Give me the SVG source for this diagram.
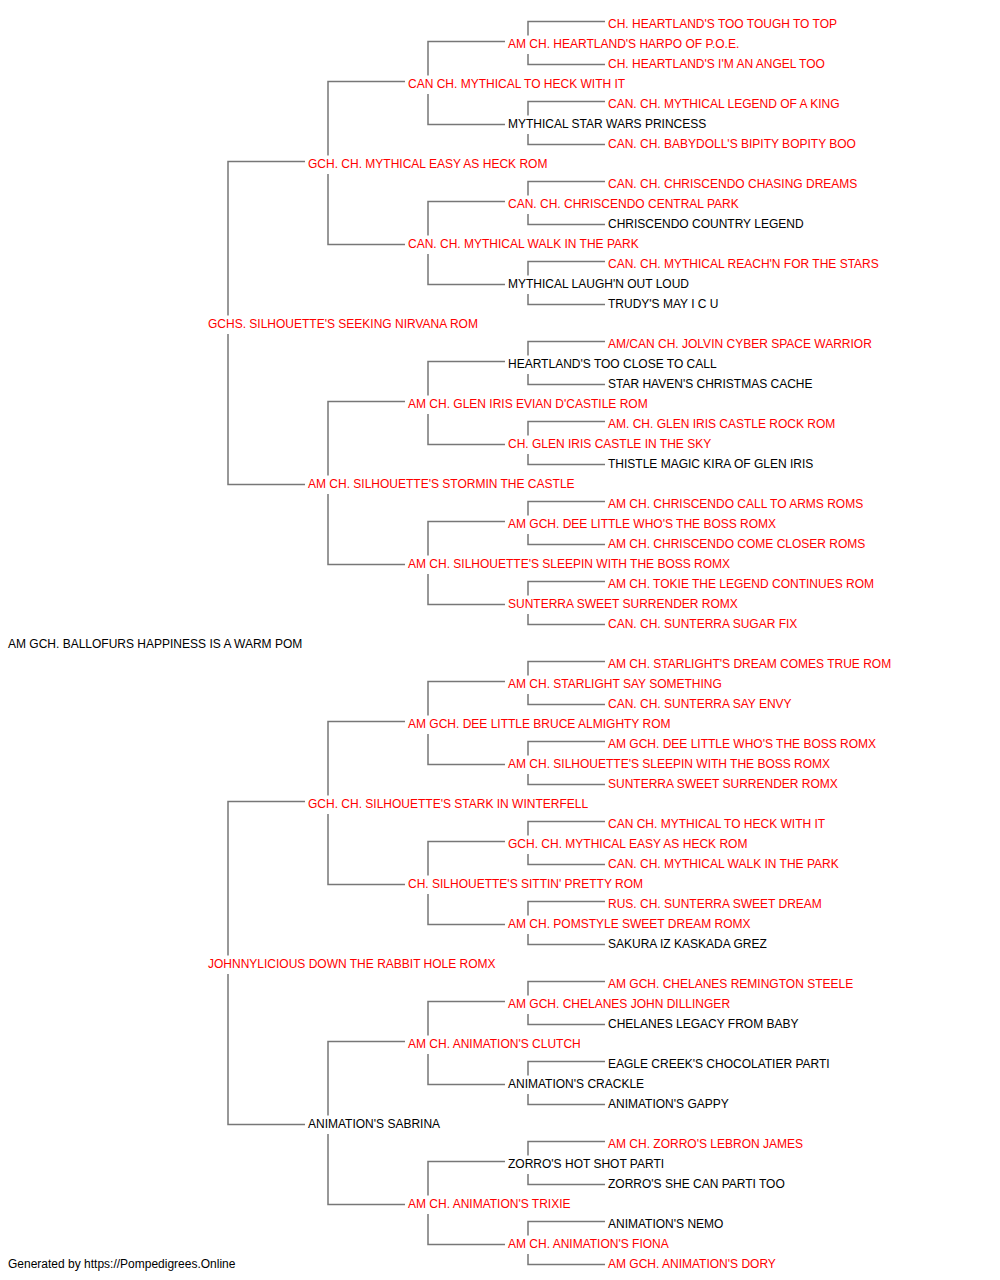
<svg xmlns="http://www.w3.org/2000/svg" width="1000" height="1280" viewBox="0 0 1000 1280">
<style>
text{font-family:"Liberation Sans",Arial,sans-serif;font-size:12px;fill:#000}
.r{fill:#ff0000}
#connectors path{fill:none;stroke:#777;stroke-width:1.5}
</style>
<rect width="1000" height="1280" fill="#fff"/>
<g id="connectors">
<path d="M305 161.5H228V315.5M228 334V484.5H305"/>
<path d="M305 801.5H228V955.5M228 974V1124.5H305"/>
<path d="M405 81.5H328V155.5M328 174V244.5H405"/>
<path d="M405 401.5H328V475.5M328 494V564.5H405"/>
<path d="M405 721.5H328V795.5M328 814V884.5H405"/>
<path d="M405 1041.5H328V1115.5M328 1134V1204.5H405"/>
<path d="M505 41.5H428V75.5M428 94V124.5H505"/>
<path d="M505 201.5H428V235.5M428 254V284.5H505"/>
<path d="M505 361.5H428V395.5M428 414V444.5H505"/>
<path d="M505 521.5H428V555.5M428 574V604.5H505"/>
<path d="M505 681.5H428V715.5M428 734V764.5H505"/>
<path d="M505 841.5H428V875.5M428 894V924.5H505"/>
<path d="M505 1001.5H428V1035.5M428 1054V1084.5H505"/>
<path d="M505 1161.5H428V1195.5M428 1214V1244.5H505"/>
<path d="M605 21.5H528V35.5M528 54V64.5H605"/>
<path d="M605 101.5H528V115.5M528 134V144.5H605"/>
<path d="M605 181.5H528V195.5M528 214V224.5H605"/>
<path d="M605 261.5H528V275.5M528 294V304.5H605"/>
<path d="M605 341.5H528V355.5M528 374V384.5H605"/>
<path d="M605 421.5H528V435.5M528 454V464.5H605"/>
<path d="M605 501.5H528V515.5M528 534V544.5H605"/>
<path d="M605 581.5H528V595.5M528 614V624.5H605"/>
<path d="M605 661.5H528V675.5M528 694V704.5H605"/>
<path d="M605 741.5H528V755.5M528 774V784.5H605"/>
<path d="M605 821.5H528V835.5M528 854V864.5H605"/>
<path d="M605 901.5H528V915.5M528 934V944.5H605"/>
<path d="M605 981.5H528V995.5M528 1014V1024.5H605"/>
<path d="M605 1061.5H528V1075.5M528 1094V1104.5H605"/>
<path d="M605 1141.5H528V1155.5M528 1174V1184.5H605"/>
<path d="M605 1221.5H528V1235.5M528 1254V1264.5H605"/>
</g>
<g id="n0"><text class="r" x="608" y="27.5">CH. HEARTLAND'S TOO TOUGH TO TOP</text></g>
<g id="n1"><text class="r" x="508" y="47.5">AM CH. HEARTLAND'S HARPO OF P.O.E.</text></g>
<g id="n2"><text class="r" x="608" y="67.5">CH. HEARTLAND'S I'M AN ANGEL TOO</text></g>
<g id="n3"><text class="r" x="408" y="87.5">CAN CH. MYTHICAL TO HECK WITH IT</text></g>
<g id="n4"><text class="r" x="608" y="107.5">CAN. CH. MYTHICAL LEGEND OF A KING</text></g>
<g id="n5"><text x="508" y="127.5">MYTHICAL STAR WARS PRINCESS</text></g>
<g id="n6"><text class="r" x="608" y="147.5">CAN. CH. BABYDOLL'S BIPITY BOPITY BOO</text></g>
<g id="n7"><text class="r" x="308" y="167.5">GCH. CH. MYTHICAL EASY AS HECK ROM</text></g>
<g id="n8"><text class="r" x="608" y="187.5">CAN. CH. CHRISCENDO CHASING DREAMS</text></g>
<g id="n9"><text class="r" x="508" y="207.5">CAN. CH. CHRISCENDO CENTRAL PARK</text></g>
<g id="n10"><text x="608" y="227.5">CHRISCENDO COUNTRY LEGEND</text></g>
<g id="n11"><text class="r" x="408" y="247.5">CAN. CH. MYTHICAL WALK IN THE PARK</text></g>
<g id="n12"><text class="r" x="608" y="267.5">CAN. CH. MYTHICAL REACH'N FOR THE STARS</text></g>
<g id="n13"><text x="508" y="287.5">MYTHICAL LAUGH'N OUT LOUD</text></g>
<g id="n14"><text x="608" y="307.5">TRUDY'S MAY I C U</text></g>
<g id="n15"><text class="r" x="208" y="327.5">GCHS. SILHOUETTE'S SEEKING NIRVANA ROM</text></g>
<g id="n16"><text class="r" x="608" y="347.5">AM/CAN CH. JOLVIN CYBER SPACE WARRIOR</text></g>
<g id="n17"><text x="508" y="367.5">HEARTLAND'S TOO CLOSE TO CALL</text></g>
<g id="n18"><text x="608" y="387.5">STAR HAVEN'S CHRISTMAS CACHE</text></g>
<g id="n19"><text class="r" x="408" y="407.5">AM CH. GLEN IRIS EVIAN D'CASTILE ROM</text></g>
<g id="n20"><text class="r" x="608" y="427.5">AM. CH. GLEN IRIS CASTLE ROCK ROM</text></g>
<g id="n21"><text class="r" x="508" y="447.5">CH. GLEN IRIS CASTLE IN THE SKY</text></g>
<g id="n22"><text x="608" y="467.5">THISTLE MAGIC KIRA OF GLEN IRIS</text></g>
<g id="n23"><text class="r" x="308" y="487.5">AM CH. SILHOUETTE'S STORMIN THE CASTLE</text></g>
<g id="n24"><text class="r" x="608" y="507.5">AM CH. CHRISCENDO CALL TO ARMS ROMS</text></g>
<g id="n25"><text class="r" x="508" y="527.5">AM GCH. DEE LITTLE WHO'S THE BOSS ROMX</text></g>
<g id="n26"><text class="r" x="608" y="547.5">AM CH. CHRISCENDO COME CLOSER ROMS</text></g>
<g id="n27"><text class="r" x="408" y="567.5">AM CH. SILHOUETTE'S SLEEPIN WITH THE BOSS ROMX</text></g>
<g id="n28"><text class="r" x="608" y="587.5">AM CH. TOKIE THE LEGEND CONTINUES ROM</text></g>
<g id="n29"><text class="r" x="508" y="607.5">SUNTERRA SWEET SURRENDER ROMX</text></g>
<g id="n30"><text class="r" x="608" y="627.5">CAN. CH. SUNTERRA SUGAR FIX</text></g>
<g id="n31"><text x="8" y="647.5">AM GCH. BALLOFURS HAPPINESS IS A WARM POM</text></g>
<g id="n32"><text class="r" x="608" y="667.5">AM CH. STARLIGHT'S DREAM COMES TRUE ROM</text></g>
<g id="n33"><text class="r" x="508" y="687.5">AM CH. STARLIGHT SAY SOMETHING</text></g>
<g id="n34"><text class="r" x="608" y="707.5">CAN. CH. SUNTERRA SAY ENVY</text></g>
<g id="n35"><text class="r" x="408" y="727.5">AM GCH. DEE LITTLE BRUCE ALMIGHTY ROM</text></g>
<g id="n36"><text class="r" x="608" y="747.5">AM GCH. DEE LITTLE WHO'S THE BOSS ROMX</text></g>
<g id="n37"><text class="r" x="508" y="767.5">AM CH. SILHOUETTE'S SLEEPIN WITH THE BOSS ROMX</text></g>
<g id="n38"><text class="r" x="608" y="787.5">SUNTERRA SWEET SURRENDER ROMX</text></g>
<g id="n39"><text class="r" x="308" y="807.5">GCH. CH. SILHOUETTE'S STARK IN WINTERFELL</text></g>
<g id="n40"><text class="r" x="608" y="827.5">CAN CH. MYTHICAL TO HECK WITH IT</text></g>
<g id="n41"><text class="r" x="508" y="847.5">GCH. CH. MYTHICAL EASY AS HECK ROM</text></g>
<g id="n42"><text class="r" x="608" y="867.5">CAN. CH. MYTHICAL WALK IN THE PARK</text></g>
<g id="n43"><text class="r" x="408" y="887.5">CH. SILHOUETTE'S SITTIN' PRETTY ROM</text></g>
<g id="n44"><text class="r" x="608" y="907.5">RUS. CH. SUNTERRA SWEET DREAM</text></g>
<g id="n45"><text class="r" x="508" y="927.5">AM CH. POMSTYLE SWEET DREAM ROMX</text></g>
<g id="n46"><text x="608" y="947.5">SAKURA IZ KASKADA GREZ</text></g>
<g id="n47"><text class="r" x="208" y="967.5">JOHNNYLICIOUS DOWN THE RABBIT HOLE ROMX</text></g>
<g id="n48"><text class="r" x="608" y="987.5">AM GCH. CHELANES REMINGTON STEELE</text></g>
<g id="n49"><text class="r" x="508" y="1007.5">AM GCH. CHELANES JOHN DILLINGER</text></g>
<g id="n50"><text x="608" y="1027.5">CHELANES LEGACY FROM BABY</text></g>
<g id="n51"><text class="r" x="408" y="1047.5">AM CH. ANIMATION'S CLUTCH</text></g>
<g id="n52"><text x="608" y="1067.5">EAGLE CREEK'S CHOCOLATIER PARTI</text></g>
<g id="n53"><text x="508" y="1087.5">ANIMATION'S CRACKLE</text></g>
<g id="n54"><text x="608" y="1107.5">ANIMATION'S GAPPY</text></g>
<g id="n55"><text x="308" y="1127.5">ANIMATION'S SABRINA</text></g>
<g id="n56"><text class="r" x="608" y="1147.5">AM CH. ZORRO'S LEBRON JAMES</text></g>
<g id="n57"><text x="508" y="1167.5">ZORRO'S HOT SHOT PARTI</text></g>
<g id="n58"><text x="608" y="1187.5">ZORRO'S SHE CAN PARTI TOO</text></g>
<g id="n59"><text class="r" x="408" y="1207.5">AM CH. ANIMATION'S TRIXIE</text></g>
<g id="n60"><text x="608" y="1227.5">ANIMATION'S NEMO</text></g>
<g id="n61"><text class="r" x="508" y="1247.5">AM CH. ANIMATION'S FIONA</text></g>
<g id="n62"><text class="r" x="608" y="1267.5">AM GCH. ANIMATION'S DORY</text></g>
<g id="footer"><text x="8" y="1267.5">Generated by https://Pompedigrees.Online</text></g>
</svg>
